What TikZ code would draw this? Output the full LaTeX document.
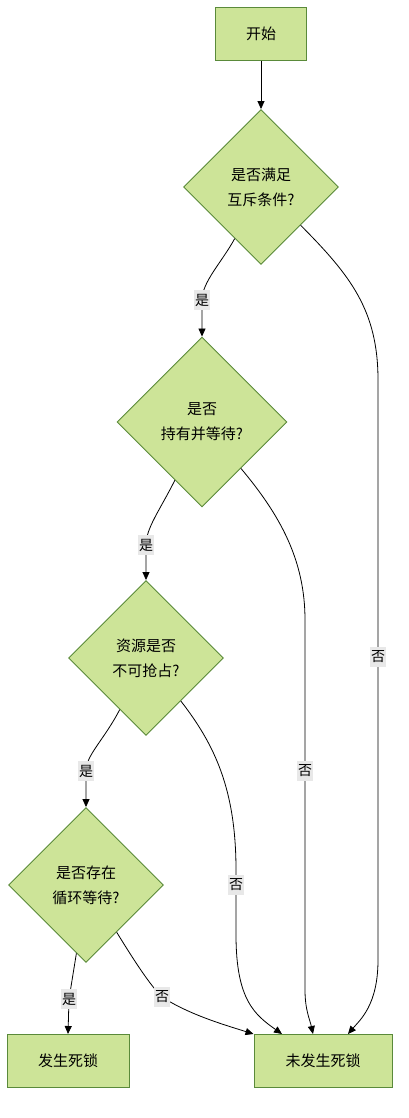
\documentclass[tikz,border=0pt]{standalone}
\usepackage{fontspec}
\setmainfont{Noto Sans CJK SC}
\usetikzlibrary{shapes.geometric,arrows.meta,calc}
\definecolor{nodefill}{HTML}{CDE498}
\definecolor{nodeline}{HTML}{5A8A3A}
\definecolor{lblfill}{HTML}{E8E8E8}
\begin{document}
\begin{tikzpicture}[x=1pt,y=-1pt,
 box/.style={draw=nodeline,fill=nodefill,line width=1pt,minimum height=53pt,inner sep=0pt,font=\fontsize{15}{25}\selectfont},
 dia/.style={diamond,draw=nodeline,fill=nodefill,line width=0.9pt,inner sep=0pt,aspect=1,align=center,font=\fontsize{15}{25}\selectfont},
 lbl/.style={fill=lblfill,inner xsep=1pt,inner ysep=4pt,font=\fontsize{14}{14}\selectfont},
 edge/.style={draw=black,line width=0.8pt,-{Triangle[length=8pt,width=7pt]}}]
\useasboundingbox (0,0) rectangle (408,1118);
\node[box,minimum width=91pt] (s) at (261,34) {开始};
\node[dia,minimum width=155pt,minimum height=155pt] (d1) at (261,187) {是否满足\\互斥条件?};
\node[dia,minimum width=170pt,minimum height=170pt] (d2) at (202,422) {是否\\持有并等待?};
\node[dia,minimum width=155pt,minimum height=155pt] (d3) at (146,658) {资源是否\\不可抢占?};
\node[dia,minimum width=155pt,minimum height=155pt] (d4) at (86,885) {是否存在\\循环等待?};
\node[box,minimum width=122pt] (k) at (68,1061) {发生死锁};
\node[box,minimum width=138pt] (w) at (323,1061) {未发生死锁};

\draw[edge] (s) -- (d1);
\draw[edge] (d1.243) .. controls (222,262) and (202,282) .. (202,300) node[lbl]{是} -- (d2.north);
\draw[edge] (d2.245) .. controls (160,510) and (146,528) .. (146,545) node[lbl]{是} -- (d3.north);
\draw[edge] (d3.243) .. controls (104,740) and (86,755) .. (86,771) node[lbl]{是} -- (d4.north);
\draw[edge] (d4.262) -- (69,999) node[lbl]{是} -- (k.north);

\draw[edge] (d1.-44) .. controls (350,275) and (378,310) .. (378,380) -- (378,657) node[lbl]{否} -- (378,960) .. controls (378,1005) and (360,1020) .. ($(w.north)+(25,0)$);
\draw[edge] (d2.-50) .. controls (280,515) and (305,560) .. (305,620) -- (305,771) node[lbl]{否} -- (305,990) .. controls (305,1010) and (310,1020) .. ($(w.north)+(-10,0)$);
\draw[edge] (d3.-51) .. controls (215,745) and (236,790) .. (236,870) -- (236,885) node[lbl]{否} -- (236,935) .. controls (236,1000) and (255,1015) .. ($(w.north)+(-41,0)$);
\draw[edge] (d4.-57) .. controls (135,962) and (150,985) .. (162,997) node[lbl]{否} .. controls (190,1015) and (225,1025) .. (w.north west);
\end{tikzpicture}
\end{document}
